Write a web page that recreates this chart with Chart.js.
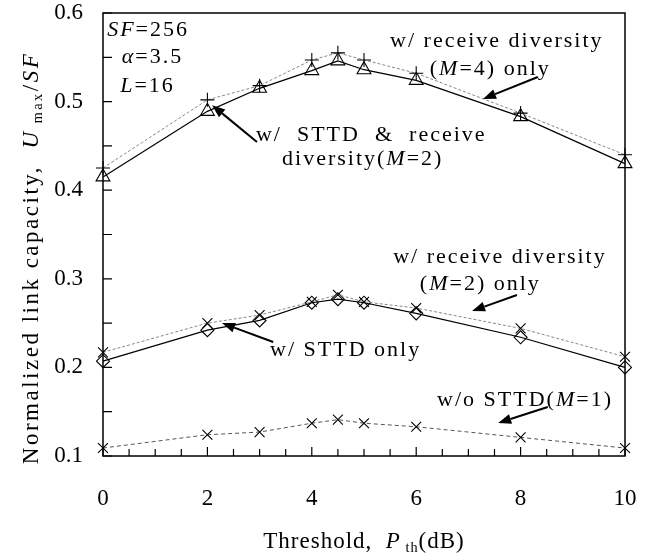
<!DOCTYPE html>
<html><head><meta charset="utf-8">
<script src="https://cdn.jsdelivr.net/npm/chart.js@4"></script>
<style>html,body{margin:0;padding:0;background:#fff}#wrap{width:654px;height:560px}</style>
</head><body><div id="wrap"><canvas id="c" width="654" height="560"></canvas></div>
<script>
const thresholds = [0, 2, 3, 4, 4.5, 5, 6, 8, 10];
const rxDivM4 = [0.425, 0.502, 0.518, 0.547, 0.555, 0.547, 0.532, 0.487, 0.440];
const sttdRxM2 = [0.415, 0.489, 0.515, 0.535, 0.546, 0.536, 0.524, 0.483, 0.430];
const rxDivM2 = [0.217, 0.250, 0.259, 0.274, 0.282, 0.274, 0.267, 0.244, 0.212];
const sttdOnly = [0.207, 0.242, 0.253, 0.273, 0.277, 0.273, 0.261, 0.234, 0.200];
const noSttd = [0.109, 0.124, 0.127, 0.137, 0.141, 0.137, 0.133, 0.121, 0.109];
const xTicks = [0, 2, 4, 6, 8, 10];
const yTicks = [0.1, 0.2, 0.3, 0.4, 0.5, 0.6];

const SERIF = '"Liberation Serif", "DejaVu Serif", serif';
const pts = arr => arr.map((v, i) => ({x: thresholds[i], y: v}));

function runs(ctx, parts, size, draw, x, y) {
  let w = 0;
  for (const p of parts) {
    const t = p[0], st = p[1] || 'n';
    const fs = st === 's' ? size * 0.62 : size;
    ctx.font = (st === 'i' ? 'italic ' : '') + fs + 'px ' + SERIF;
    const dy = st === 's' ? size * 0.18 : 0;
    if (draw) ctx.fillText(t, x + w, y + dy);
    w += ctx.measureText(t).width;
  }
  return w;
}

const annotations = [
  {x: 0.08, y: 0.574, parts: [['SF', 'i'], ['=256']]},
  {x: 0.36, y: 0.5436, parts: [['α', 'i'], ['=3.5']]},
  {x: 0.33, y: 0.511, parts: [['L', 'i'], ['=16']]},
  {x: 2.93, y: 0.4555, parts: [['w/  STTD  &  receive']]},
  {x: 3.43, y: 0.4284, parts: [['diversity('], ['M', 'i'], ['=2)']]},
  {x: 5.50, y: 0.5616, parts: [['w/ receive diversity']]},
  {x: 6.26, y: 0.530, parts: [['('], ['M', 'i'], ['=4) only']]},
  {x: 3.20, y: 0.2129, parts: [['w/ STTD only']]},
  {x: 5.56, y: 0.3178, parts: [['w/ receive diversity']]},
  {x: 6.07, y: 0.2874, parts: [['('], ['M', 'i'], ['=2) only']]},
  {x: 6.40, y: 0.1564, parts: [['w/o STTD('], ['M', 'i'], ['=1)']]}
];
const arrows = [
  [2.95, 0.4544, 2.09, 0.496],
  [8.33, 0.5278, 7.28, 0.503],
  [3.26, 0.2287, 2.28, 0.250],
  [7.93, 0.2817, 7.07, 0.2637],
  [8.52, 0.1553, 7.57, 0.1372]
];

const deco = {
  id: 'deco',
  afterDraw(chart) {
    const ctx = chart.ctx, xs = chart.scales.x, ys = chart.scales.y, a = chart.chartArea;
    ctx.save();
    ctx.strokeStyle = '#000'; ctx.fillStyle = '#000';
    ctx.lineWidth = 1.5;
    ctx.strokeRect(a.left, a.top, a.right - a.left, a.bottom - a.top);
    ctx.lineWidth = 1.2;
    ctx.beginPath();
    for (let v = 0; v <= 10.001; v += 0.5) {
      const px = xs.getPixelForValue(v);
      const len = Math.abs(v % 2) < 0.01 ? 9 : 7;
      ctx.moveTo(px, a.bottom); ctx.lineTo(px, a.bottom - len);
    }
    for (let v = 0.1; v <= 0.6001; v += 0.05) {
      const py = ys.getPixelForValue(v);
      ctx.moveTo(a.left, py); ctx.lineTo(a.left + 9, py);
    }
    ctx.stroke();
    ctx.textBaseline = 'alphabetic';
    ctx.letterSpacing = '2px';
    for (const an of annotations) {
      runs(ctx, an.parts, 22, true, xs.getPixelForValue(an.x), ys.getPixelForValue(an.y));
    }
    ctx.lineWidth = 2;
    for (const ar of arrows) {
      const x1 = xs.getPixelForValue(ar[0]), y1 = ys.getPixelForValue(ar[1]);
      const x2 = xs.getPixelForValue(ar[2]), y2 = ys.getPixelForValue(ar[3]);
      const ang = Math.atan2(y2 - y1, x2 - x1);
      const hl = 13, hw = 5;
      const bx = x2 - hl * Math.cos(ang), by = y2 - hl * Math.sin(ang);
      ctx.beginPath(); ctx.moveTo(x1, y1); ctx.lineTo(bx, by); ctx.stroke();
      ctx.beginPath();
      ctx.moveTo(x2, y2);
      ctx.lineTo(bx + hw * Math.sin(ang), by - hw * Math.cos(ang));
      ctx.lineTo(bx - hw * Math.sin(ang), by + hw * Math.cos(ang));
      ctx.closePath(); ctx.fill();
    }
    ctx.letterSpacing = '1px';
    const xt = [['Threshold,  '], ['P', 'i'], [' th', 's'], ['(dB)']];
    const wx = runs(ctx, xt, 23, false, 0, 0);
    runs(ctx, xt, 23, true, (a.left + a.right) / 2 - wx / 2, 548);
    ctx.letterSpacing = '2.5px';
    const yt = [['Normalized link capacity,  '], ['U', 'i'], [' max', 's'], ['/'], ['SF', 'i']];
    const wy = runs(ctx, yt, 23, false, 0, 0);
    ctx.translate(38, 258);
    ctx.rotate(-Math.PI / 2);
    runs(ctx, yt, 23, true, -wy / 2, 0);
    ctx.restore();
  }
};

const common = {borderWidth: 1.2, pointRadius: 7, pointBorderWidth: 1.1, backgroundColor: 'rgba(0,0,0,0)', pointBackgroundColor: 'rgba(0,0,0,0)', clip: false, tension: 0};

new Chart(document.getElementById('c'), {
  type: 'line',
  data: {
    datasets: [
      Object.assign({}, common, {label: 'w/ receive diversity (M=4) only', data: pts(rxDivM4), borderColor: '#888', borderWidth: 1, borderDash: [3, 2], pointStyle: 'cross', pointBorderColor: '#000'}),
      Object.assign({}, common, {label: 'w/ STTD & receive diversity (M=2)', data: pts(sttdRxM2), borderColor: '#000', pointStyle: 'triangle', pointRadius: 8, pointBorderColor: '#000'}),
      Object.assign({}, common, {label: 'w/ receive diversity (M=2) only', data: pts(rxDivM2), borderColor: '#888', borderWidth: 1, borderDash: [3, 2], pointStyle: 'crossRot', pointBorderColor: '#000'}),
      Object.assign({}, common, {label: 'w/ STTD only', data: pts(sttdOnly), borderColor: '#000', pointStyle: 'rectRot', pointRadius: 6.5, pointBorderColor: '#000'}),
      Object.assign({}, common, {label: 'w/o STTD (M=1)', data: pts(noSttd), borderColor: '#555', borderWidth: 1, borderDash: [4, 3], pointStyle: 'crossRot', pointBorderColor: '#000'})
    ]
  },
  options: {
    responsive: false, animation: false,
    layout: {padding: {left: 0, right: 29, top: 13, bottom: 0}},
    plugins: {legend: {display: false}, tooltip: {enabled: false}},
    scales: {
      x: {
        type: 'linear', min: 0, max: 10,
        afterFit(s) { s.height = 104; s.paddingLeft = 0; s.paddingRight = 0; },
        afterBuildTicks(s) { s.ticks = xTicks.map(v => ({value: v})); },
        grid: {display: false, drawTicks: false}, border: {display: false},
        ticks: {padding: 29, color: '#000', font: {family: SERIF, size: 23}, maxRotation: 0, autoSkip: false}
      },
      y: {
        type: 'linear', min: 0.1, max: 0.6,
        afterFit(s) { s.width = 103; s.paddingTop = 0; s.paddingBottom = 0; },
        afterBuildTicks(s) { s.ticks = yTicks.map(v => ({value: v})); },
        grid: {display: false, drawTicks: false}, border: {display: false},
        ticks: {padding: 20, color: '#000', font: {family: SERIF, size: 23}, callback: v => v.toFixed(1), autoSkip: false}
      }
    }
  },
  plugins: [deco]
});
</script></body></html>
